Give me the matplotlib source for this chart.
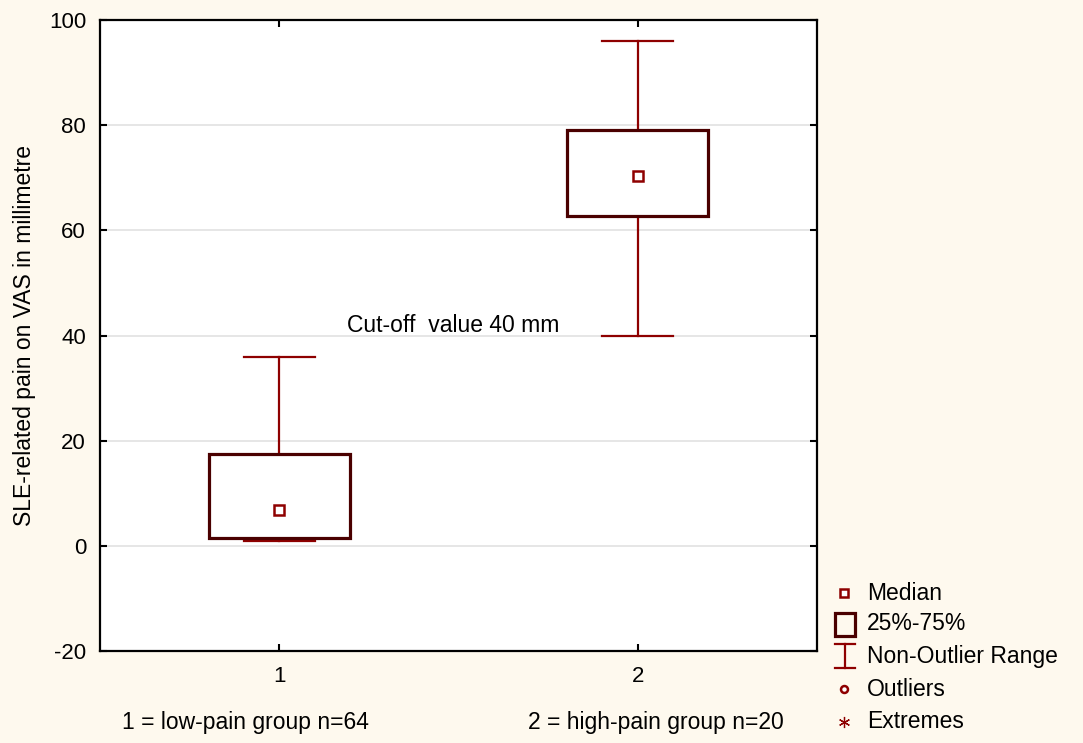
import matplotlib
matplotlib.use("Agg")
import matplotlib.pyplot as plt
from matplotlib.patches import Rectangle

plt.rcParams['font.family'] = ['Liberation Sans', 'DejaVu Sans']
plt.rcParams['axes.unicode_minus'] = False

# Box-plot summary statistics per group
groups = [1, 2]
group_labels = ["1 = low-pain group n=64", "2 = high-pain group n=20"]
medians = [6.8, 70.3]
q1 = [1.5, 62.7]
q3 = [17.5, 79.0]
whisk_lo = [1.0, 40.0]
whisk_hi = [36.0, 96.0]
yticks = [-20, 0, 20, 40, 60, 80, 100]
cutoff = 40

BG = "#FEF9EE"
BOX_C = "#4A0000"
WH_C = "#8E0000"
FS = 16.5

fig = plt.figure(figsize=(10.83, 7.43), dpi=100, facecolor=BG)
ax = fig.add_axes([100/1083, 1-651/743, 717/1083, 631/743])
ax.set_facecolor("white")

ax.set_xlim(0.5, 2.5)
ax.set_ylim(-20, 100)
ax.set_yticks(yticks)
ax.set_xticks(groups)
ax.set_xticklabels([str(g) for g in groups])
ax.tick_params(axis='both', direction='in', length=5, width=1.5, labelsize=16,
               top=True, right=True)
ax.tick_params(axis='y', pad=10)
ax.tick_params(axis='x', pad=11)
for s in ax.spines.values():
    s.set_linewidth(1.6)
    s.set_color("black")
ax.yaxis.grid(True, color="#E2E2E2", linewidth=1.2)
ax.set_axisbelow(True)

box_w = 0.394
cap_w = 0.197
for g, md, a, b, lo, hi in zip(groups, medians, q1, q3, whisk_lo, whisk_hi):
    ax.plot([g, g], [b, hi], color=WH_C, lw=1.6, zorder=3)
    ax.plot([g, g], [lo, a], color=WH_C, lw=1.6, zorder=3)
    ax.plot([g - cap_w/2, g + cap_w/2], [hi, hi], color=WH_C, lw=1.6, zorder=3)
    ax.plot([g - cap_w/2, g + cap_w/2], [lo, lo], color=WH_C, lw=1.6, zorder=3)
    ax.add_patch(Rectangle((g - box_w/2, a), box_w, b - a, facecolor="white",
                           edgecolor=BOX_C, lw=2.3, zorder=4))
    ax.plot([g], [md], marker='s', ms=6.5, mfc="white", mec=WH_C, mew=1.8, zorder=5)

ax.text(1.19, cutoff + 0.6, "Cut-off  value 40 mm", fontsize=FS, va='baseline', ha='left')

ax.set_ylabel("SLE-related pain on VAS in millimetre", fontsize=FS)
ax.yaxis.set_label_coords(-64/717, 0.5)

# Group descriptions under the axis
fig.text(245/1083, 1-723/743, group_labels[0], fontsize=FS, ha='center', va='center')
fig.text(656/1083, 1-723/743, group_labels[1], fontsize=FS, ha='center', va='center')

# Legend drawn on an overlay in pixel coordinates
lg = fig.add_axes([0, 0, 1, 1], facecolor="none")
lg.set_xlim(0, 1083)
lg.set_ylim(743, 0)
lg.axis("off")
lx = 845
lg.plot([lx - 1], [593], marker='s', ms=6, mfc="white", mec=WH_C, mew=1.8)
lg.add_patch(Rectangle((835, 613), 20, 23, facecolor="none", edgecolor=BOX_C, lw=2.3))
lg.plot([lx, lx], [644, 668], color=WH_C, lw=1.6)
lg.plot([835, 855], [644, 644], color=WH_C, lw=1.6)
lg.plot([835, 855], [668, 668], color=WH_C, lw=1.6)
lg.plot([lx - 1], [689], marker='o', ms=5, mfc="white", mec=WH_C, mew=1.8)
lg.plot([lx - 1], [722], marker=(6, 2, 0), ms=8, color=WH_C, mew=0.9)

legend_texts = ["Median", "25%-75%", "Non-Outlier Range", "Outliers", "Extremes"]
legend_y = [593, 624, 657, 689, 722]
for t, y in zip(legend_texts, legend_y):
    lg.text(867, y, t, fontsize=FS, ha='left', va='center')

fig.savefig("out.png", dpi=100, facecolor=BG)
